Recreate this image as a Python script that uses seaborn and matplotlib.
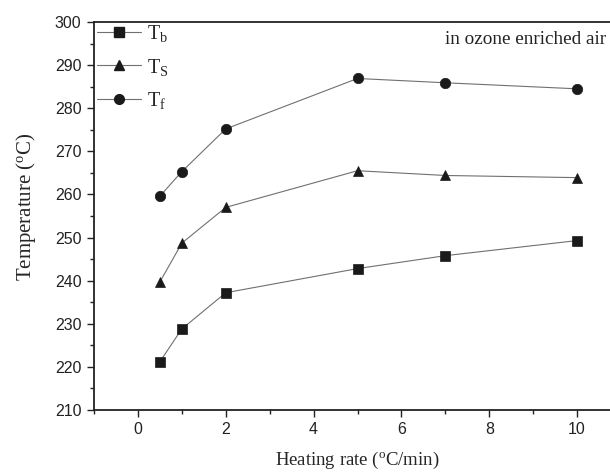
import numpy as np
import pandas as pd
import matplotlib
matplotlib.use("Agg")
import matplotlib.pyplot as plt
from matplotlib.lines import Line2D
from matplotlib.ticker import MultipleLocator
import seaborn as sns

# ---- data ----
heating_rate = [0.5, 1, 2, 5, 7, 10]
T_b = [221.2, 228.8, 237.2, 242.8, 245.8, 249.3]
T_s = [239.7, 248.7, 257.0, 265.5, 264.4, 263.9]
T_f = [259.6, 265.3, 275.2, 286.9, 285.9, 284.5]
series_names = ["Tb", "Ts", "Tf"]
legend_labels = [r"T$_{\rm b}$", r"T$_{\rm S}$", r"T$_{\rm f}$"]
x_ticks = [0, 2, 4, 6, 8, 10]
y_ticks = [210, 220, 230, 240, 250, 260, 270, 280, 290, 300]

df = pd.concat([
    pd.DataFrame({"rate": heating_rate, "T": T_b, "series": "Tb"}),
    pd.DataFrame({"rate": heating_rate, "T": T_s, "series": "Ts"}),
    pd.DataFrame({"rate": heating_rate, "T": T_f, "series": "Tf"}),
])

sns.set_theme(style="ticks")
plt.rcParams["font.family"] = ["Liberation Sans", "DejaVu Sans"]
plt.rcParams["mathtext.fontset"] = "custom"
plt.rcParams["mathtext.rm"] = "Liberation Serif"
plt.rcParams["mathtext.it"] = "Liberation Serif:italic"

fig = plt.figure(figsize=(6.10, 4.72), dpi=100)
W, H = 610, 472
left, right, top, bottom = 94, 621, 22, 410
ax = fig.add_axes([left / W, (H - bottom) / H, (right - left) / W, (bottom - top) / H])

markers = {"Tb": "s", "Ts": "^", "Tf": "o"}
line_col = "#707070"
mark_col = "#1a1a1a"
sns.lineplot(data=df, x="rate", y="T", hue="series", style="series",
             markers=markers, dashes=False,
             palette={s: line_col for s in series_names},
             markersize=7.5, linewidth=0.8,
             markerfacecolor=mark_col, markeredgecolor=mark_col,
             markeredgewidth=0.5, legend=False, ax=ax)

ax.set_xlim(-1, 11)
ax.set_ylim(210, 300)
ax.set_xticks(x_ticks)
ax.set_yticks(y_ticks)
ax.xaxis.set_minor_locator(MultipleLocator(1))
ax.yaxis.set_minor_locator(MultipleLocator(5))
ax.tick_params(which="major", direction="out", length=5, width=1, colors="#222222",
               labelsize=11.5, pad=4)
ax.tick_params(which="minor", direction="out", length=3, width=1, colors="#222222")
for s in ["left", "bottom", "top", "right"]:
    ax.spines[s].set_linewidth(1.3)
    ax.spines[s].set_color("#222222")

serif = ["Liberation Serif", "DejaVu Serif"]
ax.set_xlabel(r"Heating rate ($^{\rm o}$C/min)", family=serif, fontsize=13.5, labelpad=9)
ax.set_ylabel(r"Temperature ($^{\rm o}$C)", family=serif, fontsize=15, labelpad=12, y=0.523)

ax.text(445 / W, 1 - 44 / H, "in ozone enriched air", transform=fig.transFigure,
        family=serif, fontsize=13.8, ha="left", va="baseline", color="#222222")

handles = [Line2D([], [], color=line_col, lw=0.8, marker=markers[s], markersize=7,
                  markerfacecolor=mark_col, markeredgecolor=mark_col)
           for s in series_names]
leg = ax.legend(handles, legend_labels, loc="upper left",
                bbox_to_anchor=(95 / W, 1 - 21 / H), bbox_transform=fig.transFigure,
                frameon=False, prop={"family": serif, "size": 14.5},
                handlelength=2.2, handletextpad=0.3, labelspacing=0.62,
                borderaxespad=0, borderpad=0.1)

fig.savefig("out.png", dpi=100)
